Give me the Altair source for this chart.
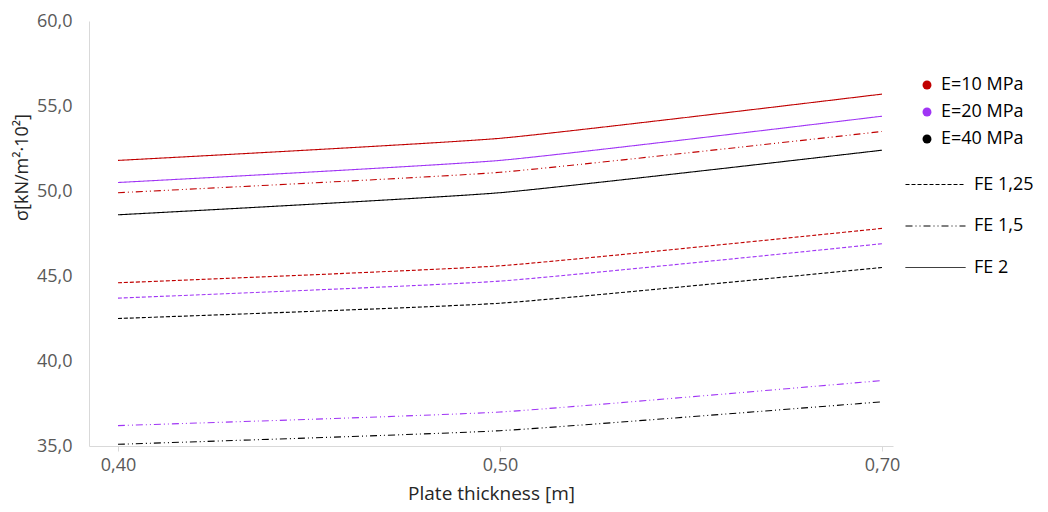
import json
import altair as alt
import pandas as pd

thickness = ["0,40", "0,50", "0,70"]
e_levels = ["E=10 MPa", "E=20 MPa", "E=40 MPa"]
fe_levels = ["FE 1,25", "FE 1,5", "FE 2"]

E10_FE125 = [44.6, 45.6, 47.8]
E20_FE125 = [43.7, 44.7, 46.9]
E40_FE125 = [42.5, 43.4, 45.5]
E10_FE15 = [49.9, 51.1, 53.5]
E20_FE15 = [36.2, 37.0, 38.85]
E40_FE15 = [35.1, 35.9, 37.6]
E10_FE2 = [51.8, 53.1, 55.7]
E20_FE2 = [50.5, 51.8, 54.4]
E40_FE2 = [48.6, 49.9, 52.4]

series = {
    ("E=10 MPa", "FE 1,25"): E10_FE125,
    ("E=20 MPa", "FE 1,25"): E20_FE125,
    ("E=40 MPa", "FE 1,25"): E40_FE125,
    ("E=10 MPa", "FE 1,5"): E10_FE15,
    ("E=20 MPa", "FE 1,5"): E20_FE15,
    ("E=40 MPa", "FE 1,5"): E40_FE15,
    ("E=10 MPa", "FE 2"): E10_FE2,
    ("E=20 MPa", "FE 2"): E20_FE2,
    ("E=40 MPa", "FE 2"): E40_FE2,
}

rows = []
for (e, fe), vals in series.items():
    for i, v in enumerate(vals):
        rows.append({"i": i, "t": thickness[i], "E": e, "FE": fe, "sigma": v,
                     "key": e + "|" + fe})
df = pd.DataFrame(rows)

colors = ["#c00000", "#a035f5", "#000000"]
dashes = [[4, 2], [7, 3, 1, 3, 1, 3], [1, 0]]
FONT = "Open Sans"
label_expr = json.dumps(thickness) + "[datum.value]"

x = alt.X("i:Q", title="Plate thickness [m]",
          scale=alt.Scale(domain=[-29 / 382, 2 + 11 / 382], nice=False, zero=False),
          axis=alt.Axis(values=[0, 1, 2], labelExpr=label_expr, grid=False,
                        domainColor="#d9d9d9", tickColor="#d9d9d9", tickSize=5,
                        labelColor="#595959", labelFontSize=18, labelFont=FONT,
                        labelPadding=5, titleFont=FONT, titleFontSize=19,
                        titleFontWeight="normal", titleColor="#262626",
                        titlePadding=10))
y = alt.Y("sigma:Q", title="σ[kN/m²·10²]",
          scale=alt.Scale(domain=[35, 60], nice=False, zero=False),
          axis=alt.Axis(values=[35, 40, 45, 50, 55, 60],
                        labelExpr="replace(format(datum.value, '.1f'), '.', ',')",
                        grid=False, ticks=False, domainColor="#d9d9d9",
                        labelColor="#595959", labelFontSize=18, labelFont=FONT,
                        labelPadding=17, titleFont=FONT, titleFontSize=18,
                        titleFontWeight="normal", titleColor="#262626",
                        titleX=-67, titleY=146, titleAngle=270,
                        titleAlign="center", titleBaseline="middle"))

lines = alt.Chart(df).mark_line(interpolate="cardinal", tension=0.55, strokeWidth=1.1).encode(
    x=x, y=y,
    stroke=alt.Stroke("E:N", scale=alt.Scale(domain=e_levels, range=colors), legend=None),
    strokeDash=alt.StrokeDash("FE:N", scale=alt.Scale(domain=fe_levels, range=dashes),
                              legend=alt.Legend(title=None, orient="none", legendX=816,
                                                legendY=133, symbolType="stroke",
                                                symbolSize=3600, symbolStrokeWidth=1,
                                                symbolStrokeColor="#000000",
                                                labelFontSize=18, labelFont=FONT,
                                                labelColor="#000000", rowPadding=1.5,
                                                labelOffset=8, padding=0)),
    detail="key:N",
    order="i:Q",
)

legend_pts = alt.Chart(df).transform_filter("false").mark_circle(size=80, opacity=1).encode(
    x="i:Q", y="sigma:Q",
    fill=alt.Fill("E:N", scale=alt.Scale(domain=e_levels, range=colors),
                  legend=alt.Legend(title=None, orient="none", legendX=829,
                                    legendY=55, symbolType="circle", symbolSize=80,
                                    symbolStrokeWidth=0, labelFontSize=18,
                                    labelFont=FONT, labelColor="#000000",
                                    rowPadding=9, labelOffset=5, padding=0)),
)

chart = alt.layer(lines, legend_pts).resolve_legend(
    fill="independent", strokeDash="independent"
).properties(
    width=804, height=425,
    autosize=alt.AutoSizeParams(type="none"),
    padding={"left": 81, "top": 13, "right": 147, "bottom": 64},
).configure(background="white").configure_view(stroke=None, strokeWidth=0)

chart.save("out.html", embed_options={"renderer": "svg", "actions": False})
